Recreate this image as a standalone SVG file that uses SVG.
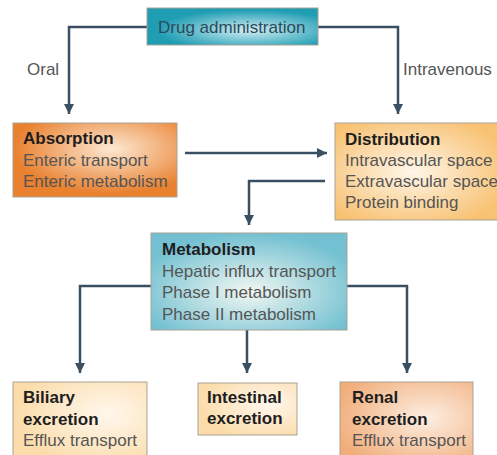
<svg xmlns="http://www.w3.org/2000/svg" width="497" height="455" viewBox="0 0 497 455">
<defs>
<radialGradient id="gTeal" cx="0.6" cy="0.6" r="0.55">
<stop offset="0" stop-color="#d2eef3"/><stop offset="1" stop-color="#1f9db3"/>
</radialGradient>
<radialGradient id="gOrange" cx="0.6" cy="0.35" r="0.6">
<stop offset="0" stop-color="#fde8d3"/><stop offset="1" stop-color="#e9812f"/>
</radialGradient>
<radialGradient id="gDist" cx="0.45" cy="0.5" r="0.6">
<stop offset="0" stop-color="#fff6e9"/><stop offset="1" stop-color="#f8c273"/>
</radialGradient>
<radialGradient id="gMet" cx="0.5" cy="0.6" r="0.6">
<stop offset="0" stop-color="#f1f7f2"/><stop offset="1" stop-color="#72c0d1"/>
</radialGradient>
<radialGradient id="gPale" cx="0.7" cy="0.4" r="0.7">
<stop offset="0" stop-color="#fff7ec"/><stop offset="1" stop-color="#fbdcaa"/>
</radialGradient>
<radialGradient id="gRenal" cx="0.65" cy="0.45" r="0.7">
<stop offset="0" stop-color="#fdeee2"/><stop offset="1" stop-color="#f1ae7b"/>
</radialGradient>
<marker id="ah" viewBox="0 0 10 10" refX="10" refY="5" markerWidth="4.2" markerHeight="4" orient="auto" markerUnits="strokeWidth">
<path d="M0,0 L10,5 L0,10 z" fill="#3a5062"/>
</marker>
<style>
.box{stroke:#a9a196;stroke-width:1}
.t{font-family:"Liberation Sans",Arial,sans-serif;font-size:17px;fill:#555}
.h{font-family:"Liberation Sans",Arial,sans-serif;font-size:17px;font-weight:bold;fill:#1e1e1e}
.c{fill:none;stroke:#3a5062;stroke-width:2.5}
</style>
</defs>
<g id="connectors">
<path class="c" d="M147,27 H69 V114" marker-end="url(#ah)"/>
<path class="c" d="M318,27 H398 V114" marker-end="url(#ah)"/>
<path class="c" d="M185,153 H327" marker-end="url(#ah)"/>
<path class="c" d="M325,181 H249 V225" marker-end="url(#ah)"/>
<path class="c" d="M151,286 H80 V373" marker-end="url(#ah)"/>
<path class="c" d="M247,330 V373" marker-end="url(#ah)"/>
<path class="c" d="M347,286 H407 V373" marker-end="url(#ah)"/>
<text class="t" x="27" y="75">Oral</text>
<text class="t" x="403" y="75">Intravenous</text>
</g>
<g id="drug">
<rect class="box" x="147" y="8" width="171" height="37" fill="url(#gTeal)"/>
<text class="t" x="158" y="33" style="fill:#2d4a5a">Drug administration</text>
</g>
<g id="absorption">
<rect class="box" x="13" y="123" width="164" height="74" fill="url(#gOrange)"/>
<text class="h" x="23" y="144">Absorption</text>
<text class="t" x="23" y="166">Enteric transport</text>
<text class="t" x="23" y="187">Enteric metabolism</text>
</g>
<g id="distribution">
<rect class="box" x="335" y="123" width="170" height="97" fill="url(#gDist)"/>
<text class="h" x="345" y="145">Distribution</text>
<text class="t" x="345" y="166">Intravascular space</text>
<text class="t" x="345" y="187">Extravascular space</text>
<text class="t" x="345" y="208">Protein binding</text>
</g>
<g id="metabolism">
<rect class="box" x="151" y="233" width="196" height="97" fill="url(#gMet)"/>
<text class="h" x="162" y="255">Metabolism</text>
<text class="t" x="162" y="277">Hepatic influx transport</text>
<text class="t" x="162" y="298">Phase I metabolism</text>
<text class="t" x="162" y="320">Phase II metabolism</text>
</g>
<g id="biliary">
<rect class="box" x="13" y="382" width="134" height="80" fill="url(#gPale)"/>
<text class="h" x="23" y="403">Biliary</text>
<text class="h" x="23" y="425">excretion</text>
<text class="t" x="23" y="446">Efflux transport</text>
</g>
<g id="intestinal">
<rect class="box" x="198" y="383" width="99" height="52" fill="url(#gPale)"/>
<text class="h" x="207" y="403">Intestinal</text>
<text class="h" x="207" y="424">excretion</text>
</g>
<g id="renal">
<rect class="box" x="340" y="382" width="133" height="80" fill="url(#gRenal)"/>
<text class="h" x="352" y="403">Renal</text>
<text class="h" x="352" y="425">excretion</text>
<text class="t" x="352" y="446">Efflux transport</text>
</g>
</svg>
